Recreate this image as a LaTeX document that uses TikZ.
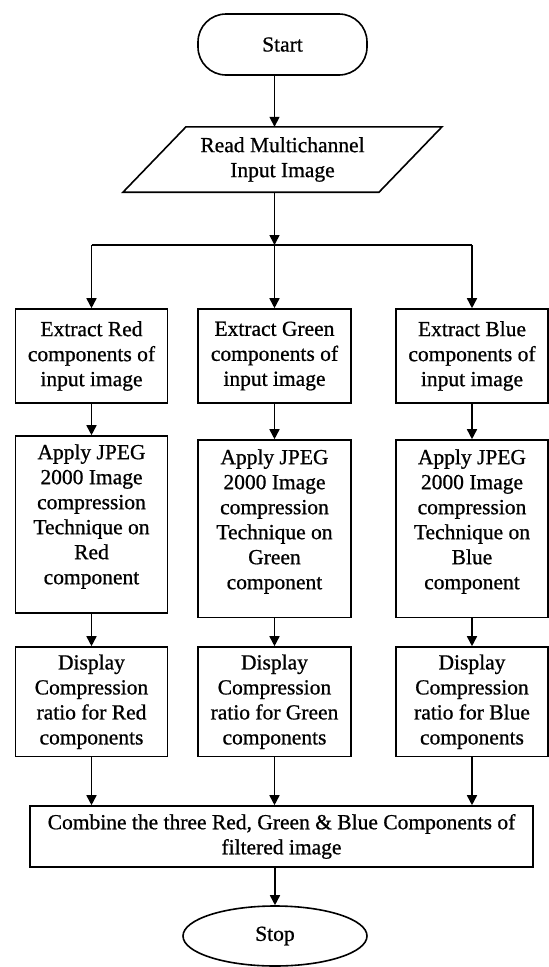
\documentclass[tikz,border=0pt]{standalone}
\usepackage{fontspec}
\setmainfont{Liberation Serif}[FakeBold=0.8]
\usetikzlibrary{arrows.meta,shapes.geometric}
\begin{document}
\begin{tikzpicture}[x=1pt,y=-1pt,
  every node/.style={font=\fontsize{21.5}{25}\selectfont, align=center, inner sep=0pt},
  line/.style={line width=1.6pt},
  arr/.style={line width=1.6pt,-{Triangle[width=10pt,length=10pt]}},
  box/.style={draw, line width=1.6pt, minimum width=152pt},
  txt/.style={draw=none},
]
\useasboundingbox (0,0) rectangle (549,967);

% terminal and input
\node[draw, line width=1.6pt, rounded corners=28pt, minimum width=169pt, minimum height=61pt] (start) at (282.5,44.5) {Start};
\node[minimum width=193pt, minimum height=65pt] (read) at (282.5,159.5) {Read Multichannel\\Input Image};
\draw[line] ([xshift=-96.5pt]read.north) -- ([xshift=159.5pt]read.north)
  -- ([xshift=96.5pt]read.south) -- ([xshift=-159.5pt]read.south) -- cycle;

% extraction row
\node[box, minimum height=94pt] (er) at (91.5,356) {Extract Red\\components of\\input image};
\node[box, minimum width=153pt, minimum height=94pt] (eg) at (274.5,356) {Extract Green\\components of\\input image};
\node[box, minimum height=94pt] (eb) at (472,356) {Extract Blue\\components of\\input image};

% compression row
\node[box, minimum height=177pt] (ar) at (91.5,524.5) {};
\node[box, minimum width=153pt, minimum height=177.5pt] (ag) at (274.5,528.75) {};
\node[box, minimum height=177.5pt] (ab) at (472,528.75) {};
\node[txt] (art) at (91.5,516.5) {Apply JPEG\\2000 Image\\compression\\Technique on\\Red\\component};
\node[txt] (agt) at (274.5,521.5) {Apply JPEG\\2000 Image\\compression\\Technique on\\Green\\component};
\node[txt] (abt) at (472,521.5) {Apply JPEG\\2000 Image\\compression\\Technique on\\Blue\\component};

% ratio row
\node[box, minimum height=109.5pt] (dr) at (91.5,701.75) {Display\\Compression\\ratio for Red\\components};
\node[box, minimum width=153pt, minimum height=109.5pt] (dg) at (274.5,701.75) {Display\\Compression\\ratio for Green\\components};
\node[box, minimum height=109.5pt] (db) at (472,701.75) {Display\\Compression\\ratio for Blue\\components};

% merge and end
\node[box, minimum width=503pt, minimum height=61pt] (comb) at (281.5,836.5) {Combine the three Red, Green \& Blue Components of\\filtered image};
\node[draw, ellipse, line width=1.6pt, minimum width=184pt, minimum height=60pt] (stop) at (275,936) {Stop};

% connectors
\coordinate (split) at (274.5,245);
\draw[arr] (start.south -| eg) -- (read.north -| eg);
\draw[arr] (read.south -| eg) -- (split);
\draw[line] (split -| er) -- (split -| eb);
\draw[arr] (split -| er) -- (er.north);
\draw[arr] (split) -- (eg.north);
\draw[arr] (split -| eb) -- (eb.north);
\draw[arr] (er.south) -- (ar.north);
\draw[arr] (eg.south) -- (ag.north);
\draw[arr] (eb.south) -- (ab.north);
\draw[arr] (ar.south) -- (dr.north);
\draw[arr] (ag.south) -- (dg.north);
\draw[arr] (ab.south) -- (db.north);
\draw[arr] (dr.south) -- (dr.south |- comb.north);
\draw[arr] (dg.south) -- (dg.south |- comb.north);
\draw[arr] (db.south) -- (db.south |- comb.north);
\draw[arr] (comb.south -| stop.north) -- (stop.north);
\end{tikzpicture}
\end{document}
